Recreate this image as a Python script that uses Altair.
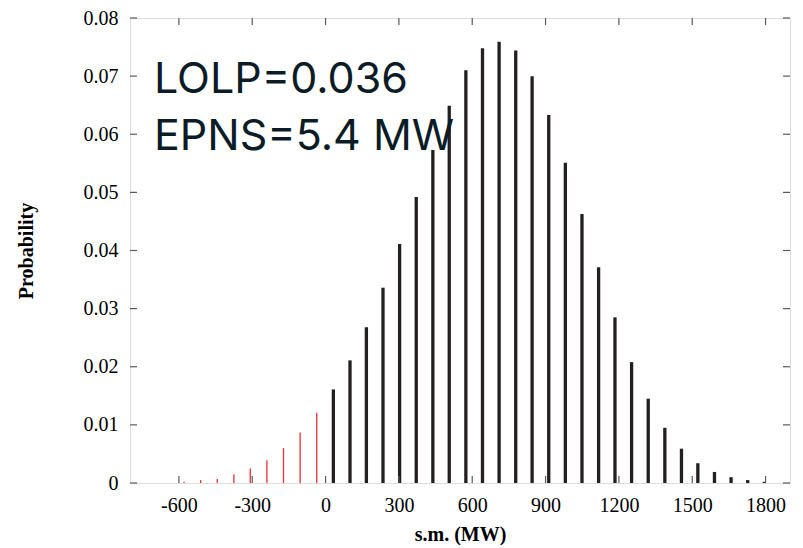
import altair as alt
import pandas as pd

# ---- data ----
neg_x = [-579, -511, -443, -375, -308, -240, -172, -104, -36]
neg_p = [0.0002, 0.0005, 0.0007, 0.0015, 0.0025, 0.0039, 0.0060, 0.0087, 0.0121]
pos_x = [32, 100, 167, 235, 303, 371, 439, 506, 574, 642,
         710, 778, 845, 913, 981, 1049, 1117, 1184, 1252, 1320,
         1388, 1456, 1523, 1591, 1659, 1727, 1795]
pos_p = [0.0161, 0.0211, 0.0268, 0.0336, 0.0411, 0.0492, 0.0573, 0.0649, 0.0710, 0.0748,
         0.0759, 0.0744, 0.0700, 0.0633, 0.0551, 0.0463, 0.0371, 0.0285, 0.0208, 0.0145,
         0.0095, 0.0059, 0.0034, 0.0019, 0.0010, 0.0005, 0.0002]
x_ticks = [-600, -300, 0, 300, 600, 900, 1200, 1500, 1800]
y_ticks = [0, 0.01, 0.02, 0.03, 0.04, 0.05, 0.06, 0.07, 0.08]
annot = ["LOLP=0.036", "EPNS=5.4 MW"]

neg_df = pd.DataFrame({"x": neg_x, "p": neg_p})
pos_df = pd.DataFrame({"x": pos_x, "p": pos_p})
xt_df = pd.DataFrame({"t": x_ticks})
yt_df = pd.DataFrame({"t": y_ticks})

W, H = 660, 465
SERIF = "Liberation Serif"
TICK = "#5a5a5a"

xscale = alt.Scale(domain=[-800, 1900], nice=False, zero=False)
yscale = alt.Scale(domain=[0, 0.08], nice=False)

xaxis = alt.Axis(values=x_ticks, ticks=False, domain=False, grid=False,
                 labelFont=SERIF, labelFontSize=20, labelColor="black",
                 labelPadding=12, labelExpr="'' + datum.value",
                 title="s.m. (MW)", titleFont=SERIF,
                 titleFontSize=20, titleFontWeight="bold", titleColor="black",
                 titlePadding=9, labelFlush=False)
yaxis = alt.Axis(values=y_ticks, ticks=False, domain=False, grid=False,
                 labelFont=SERIF, labelFontSize=20, labelColor="black",
                 labelPadding=12,
                 labelExpr="datum.value == 0 ? '0' : format(datum.value, '.2f')",
                 title="Probability", titleFont=SERIF, titleFontSize=20,
                 titleFontWeight="bold", titleColor="black", titlePadding=47,
                 labelFlush=False)

X = lambda f: alt.X(f, scale=xscale, axis=xaxis)
Y = lambda f: alt.Y(f, scale=yscale, axis=yaxis)

neg = alt.Chart(neg_df).mark_rule(color="#e8303a", strokeWidth=1.3).encode(
    x=X("x:Q"), y=Y("p:Q"), y2=alt.datum(0))
pos = alt.Chart(pos_df).mark_rule(color="#231f20", strokeWidth=3.3).encode(
    x=X("x:Q"), y=Y("p:Q"), y2=alt.datum(0))

xt_bot = alt.Chart(xt_df).mark_rule(color=TICK, strokeWidth=1.2).encode(
    x=X("t:Q"), y=alt.value(H), y2=alt.value(H - 7))
xt_top = alt.Chart(xt_df).mark_rule(color=TICK, strokeWidth=1.2).encode(
    x=X("t:Q"), y=alt.value(0), y2=alt.value(7))
yt_left = alt.Chart(yt_df).mark_rule(color=TICK, strokeWidth=1.2).encode(
    y=Y("t:Q"), x=alt.value(0), x2=alt.value(7))
yt_right = alt.Chart(yt_df).mark_rule(color=TICK, strokeWidth=1.2).encode(
    y=Y("t:Q"), x=alt.value(W), x2=alt.value(W - 7))

txt = alt.Chart(pd.DataFrame({"a": [0]})).mark_text(
    text=annot, align="left", baseline="alphabetic", font="Inter",
    fontSize=43, color="#0c1c27", lineHeight=57).encode(
    x=alt.value(24), y=alt.value(75))

chart = alt.layer(neg, pos, xt_bot, xt_top, yt_left, yt_right, txt).properties(
    width=W, height=H, autosize="none",
    padding={"left": 122, "top": 10, "right": 5, "bottom": 62},
).configure_view(stroke="#7f7f7f", strokeWidth=1.3).configure(background="white")

chart.save("out.html", embed_options={"renderer": "svg", "actions": False})
